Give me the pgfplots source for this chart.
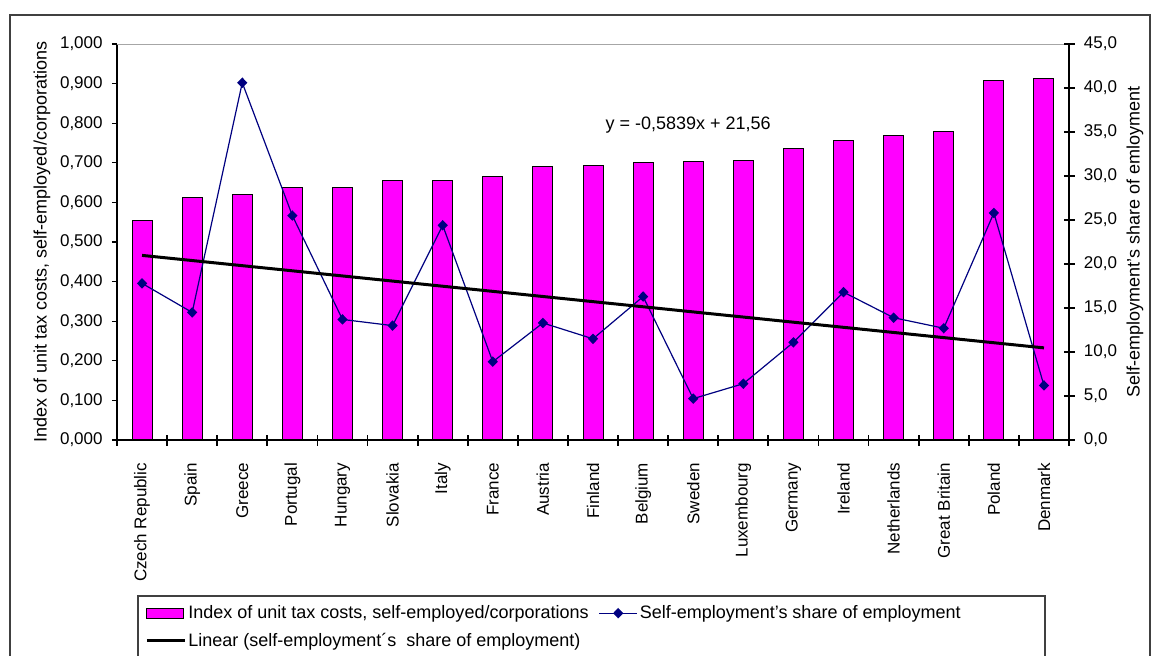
\documentclass[border=0pt]{standalone}
\usepackage{fontspec}
\setmainfont{Liberation Sans}
\usepackage{pgfplots}
\pgfplotsset{compat=1.18}
\definecolor{barmag}{HTML}{FF00FF}
\definecolor{navyl}{HTML}{000080}
\definecolor{framegray}{HTML}{404040}
\begin{document}
\fontsize{8.5pt}{10pt}\selectfont
\begin{tikzpicture}
\pgfplotsset{
  every axis/.append style={
    width=476pt, height=198pt, scale only axis,
    xmin=-0.5, xmax=18.5,
    font=\fontsize{8.5pt}{10pt}\selectfont,
    /pgf/number format/assume math mode=true,
    axis line style={line width=0.6pt},
  }
}
\useasboundingbox (-58.5pt,-107.5pt) rectangle (518.5pt,220pt);
\draw[framegray, line width=1pt] (-53.5pt,-120pt) rectangle (516.5pt,212.5pt);
\begin{axis}[
  ymin=0, ymax=1,
  axis y line*=left,
  axis x line*=bottom,
  xtick=\empty,
  ytick={0,0.1,0.2,0.3,0.4,0.5,0.6,0.7,0.8,0.9,1.0},
  yticklabel style={/pgf/number format/fixed, /pgf/number format/fixed zerofill, /pgf/number format/precision=3, /pgf/number format/use comma, /tikz/inner xsep=4.5pt},
  ytick align=outside,
  major tick length=2.5pt,
  tick style={black, line width=0.6pt},
  ylabel={Index of unit tax costs, self-employed/corporations},
  every axis y label/.style={at={(axis description cs:-0.0788,0.5)}, rotate=90, anchor=center, font=\fontsize{9pt}{11pt}\selectfont},
]
\addplot[ybar, bar width=10pt, fill=barmag, draw=black, line width=0.5pt] coordinates {
 (0,0.554) (1,0.613) (2,0.620) (3,0.637) (4,0.637) (5,0.655) (6,0.655) (7,0.666) (8,0.691) (9,0.694)
 (10,0.700) (11,0.704) (12,0.707) (13,0.736) (14,0.757) (15,0.768) (16,0.778) (17,0.907) (18,0.913)};
\draw[gray!70, line width=0.6pt] (axis cs:-0.5,1) -- (axis cs:18.5,1);
\end{axis}
\begin{axis}[
  ymin=0, ymax=45,
  axis y line*=right,
  axis x line*=bottom,
  xtick={-0.5,0.5,1.5,2.5,3.5,4.5,5.5,6.5,7.5,8.5,9.5,10.5,11.5,12.5,13.5,14.5,15.5,16.5,17.5,18.5},
  x tick label as interval,
  xticklabels={Czech Republic,Spain,Greece,Portugal,Hungary,Slovakia,Italy,France,Austria,Finland,Belgium,Sweden,Luxembourg,Germany,Ireland,Netherlands,Great Britain,Poland,Denmark},
  xticklabel style={rotate=90, anchor=east, inner xsep=8.5pt},
  ytick={0,5,10,15,20,25,30,35,40,45},
  yticklabel style={/pgf/number format/fixed, /pgf/number format/fixed zerofill, /pgf/number format/precision=1, /pgf/number format/use comma, /tikz/inner xsep=4.5pt},
  tick align=center,
  major tick length=5.5pt,
  tick style={black, line width=0.6pt},
  x tick style={black, line width=0.9pt},
  ylabel={Self-employment’s share of emloyment},
  every axis y label/.style={at={(axis description cs:1.0693,0.5)}, rotate=90, anchor=center, font=\fontsize{9pt}{11pt}\selectfont},
  legend columns=2,
  legend style={at={(axis description cs:0.0294,-0.4116)}, anchor=north west, draw=none, fill=none,
    inner sep=0pt, row sep=4pt, nodes={inner sep=1pt, anchor=west}, font=\fontsize{9pt}{11pt}\selectfont,
    /tikz/every even column/.append style={column sep=4pt}},
  legend cell align=left,
  legend image code/.code={\draw[mark repeat=2, mark phase=2, #1] plot coordinates {(0pt,0pt) (9.5pt,0pt) (19pt,0pt)};},
]
\addlegendimage{legend image code/.code={\draw[fill=barmag, draw=black, line width=0.5pt] (0pt,-2.5pt) rectangle (18.5pt,2.5pt);}}
\addlegendentry{Index of unit tax costs, self-employed/corporations}
\addplot[navyl, line width=0.6pt, mark=diamond*, mark size=2.2pt, mark options={xscale=1.3}] coordinates {
 (0,17.8) (1,14.5) (2,40.6) (3,25.5) (4,13.7) (5,13.0) (6,24.4) (7,8.9) (8,13.3) (9,11.5)
 (10,16.3) (11,4.7) (12,6.4) (13,11.1) (14,16.8) (15,13.9) (16,12.7) (17,25.8) (18,6.2)};
\addlegendentry{Self-employment’s share of employment}
\addplot[black, line width=1.5pt, mark=none] coordinates {(0,20.98) (18,10.47)};
\addlegendentry{Linear (self-employment´s\ \ share of employment)}
\node[anchor=center, font=\fontsize{9pt}{11pt}\selectfont] at (axis cs:10.9,35.8) {y = -0,5839x + 21,56};
\end{axis}
\draw[framegray, line width=0.6pt] (10.5pt,-130pt) rectangle (464pt,-78pt);
\end{tikzpicture}
\end{document}
